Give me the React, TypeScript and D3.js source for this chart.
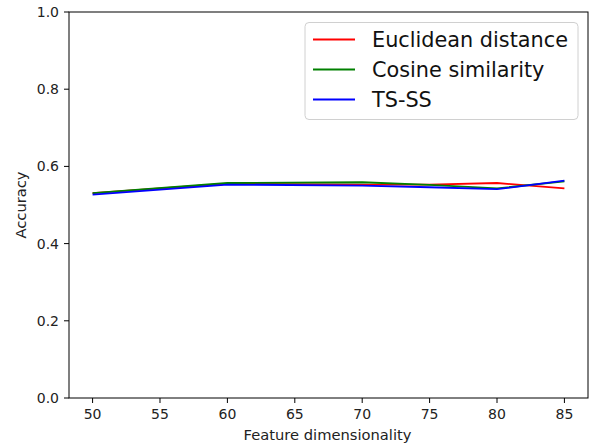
import React from "react";
import * as d3 from "d3";

const dims = [50, 60, 70, 75, 80, 85];
const euclidean = [0.531, 0.555, 0.553, 0.553, 0.557, 0.543];
const cosine = [0.531, 0.557, 0.559, 0.552, 0.543, 0.561];
const tsss = [0.527, 0.553, 0.55, 0.546, 0.541, 0.563];
const seriesNames = ["Euclidean distance", "Cosine similarity", "TS-SS"];
const seriesColors = ["#ff0000", "#008000", "#0000ff"];
const xTicks = [50, 55, 60, 65, 70, 75, 80, 85];
const yTicks = [0, 0.2, 0.4, 0.6, 0.8, 1.0];

const W = 591, H = 446;
const L = 69, R = 588, T = 12, B = 398;
const FONT = "DejaVu Sans, sans-serif";

export default function App() {
  const x = d3.scaleLinear().domain([48.25, 86.75]).range([L, R]);
  const y = d3.scaleLinear().domain([0, 1]).range([B, T]);
  const line = d3
    .line<[number, number]>()
    .x((d) => x(d[0]))
    .y((d) => y(d[1]));
  const all = [euclidean, cosine, tsss];

  return (
    <svg
      width={W}
      height={H}
      style={{ position: "fixed", left: 0, top: 0, background: "#fff" }}
      fontFamily={FONT}
    >
      <rect x={0} y={0} width={W} height={H} fill="#fff" />
      {all.map((vals, i) => (
        <path
          key={i}
          d={line(dims.map((d, j) => [d, vals[j]]) as [number, number][]) || ""}
          fill="none"
          stroke={seriesColors[i]}
          strokeWidth={1.8}
        />
      ))}
      <rect x={L} y={T} width={R - L} height={B - T} fill="none" stroke="#000" strokeWidth={1} />
      {xTicks.map((t) => (
        <g key={t} transform={`translate(${x(t)},${B})`}>
          <line y1={0} y2={5} stroke="#000" />
          <text y={21} textAnchor="middle" fontSize={14} fill="#222">
            {t}
          </text>
        </g>
      ))}
      {yTicks.map((t) => (
        <g key={t} transform={`translate(${L},${y(t)})`}>
          <line x1={0} x2={-5} stroke="#000" />
          <text x={-10} dy="0.35em" textAnchor="end" fontSize={14} fill="#222">
            {t.toFixed(1)}
          </text>
        </g>
      ))}
      <text x={(L + R) / 2 - 1} y={440} textAnchor="middle" fontSize={14.7} fill="#222">
        Feature dimensionality
      </text>
      <text
        transform={`translate(26,${(T + B) / 2}) rotate(-90)`}
        textAnchor="middle"
        fontSize={14.7}
        fill="#222"
      >
        Accuracy
      </text>
      <g>
        <rect x={305} y={22.5} width={273} height={97} rx={4} fill="#fff" fillOpacity={0.8} stroke="#d0d0d0" />
        {seriesNames.map((n, i) => (
          <g key={n} transform={`translate(0,${39.5 + i * 30})`}>
            <line x1={313} x2={355} stroke={seriesColors[i]} strokeWidth={1.8} />
            <text x={372} dy="0.36em" fontSize={20.8} fill="#111">
              {n}
            </text>
          </g>
        ))}
      </g>
    </svg>
  );
}
